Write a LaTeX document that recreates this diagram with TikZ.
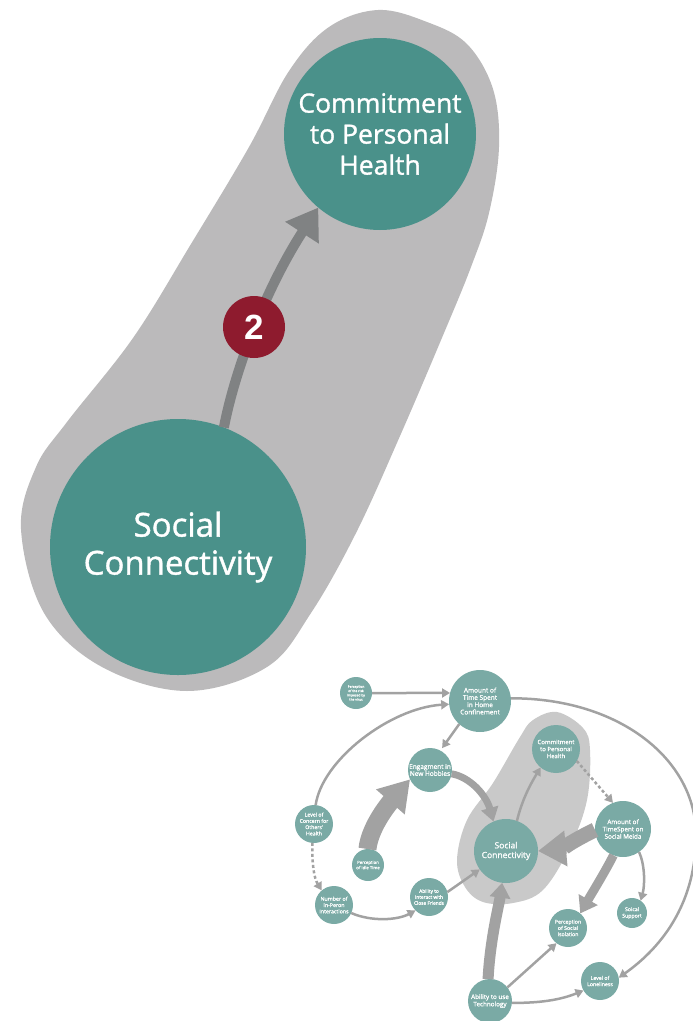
\documentclass[tikz,border=0pt]{standalone}
\usepackage{fontspec}
\setmainfont{Open Sans}[FakeBold=1.2]
\newfontfamily\numfont{Liberation Sans}
\usetikzlibrary{arrows.meta,shapes,positioning}

\definecolor{loopteal}{RGB}{74,145,138}
\definecolor{loopgrey}{RGB}{187,186,187}
\definecolor{linkgrey}{RGB}{128,130,131}
\definecolor{badgered}{RGB}{142,27,46}
\definecolor{mapteal}{RGB}{122,170,165}
\definecolor{mapgrey}{RGB}{201,201,201}
\definecolor{maplink}{RGB}{162,162,162}

\begin{document}
\begin{tikzpicture}[x=1pt,y=1pt,
    bub/.style={circle, fill=loopteal, text=white, align=center, inner sep=0pt, outer sep=0pt},
    minibub/.style={circle, fill=mapteal, text=white, align=center, inner sep=0pt, outer sep=0pt},
    thinlink/.style={draw=maplink, line width=2.5pt, -{Triangle[length=8pt,width=9pt]}},
    dotlink/.style={thinlink, dash pattern=on 3pt off 2.5pt},
    band/.style={draw=maplink, line width=#1}]

\useasboundingbox (0,0) rectangle (693,-1021);

% loop detail
\fill[loopgrey] plot[smooth cycle, tension=0.6] coordinates {
    (378,-10) (427,-22) (467,-44) (493,-89) (499,-147) (489,-213) (471,-267)
    (444,-333) (400,-436) (356,-533) (311,-613) (267,-667) (187,-691) (102,-667)
    (44,-613) (21,-529) (36,-467) (67,-422) (133,-338) (191,-244) (249,-147)
    (289,-71) (329,-27)};

\node[bub, minimum size=192pt, font=\fontsize{26.5}{31}\selectfont] at (380,-134) (com) {Commitment\\to Personal\\Health};
\node[bub, minimum size=256pt, font=\fontsize{33}{38}\selectfont] at (178,-547) (soc) {Social\\Connectivity};

\draw[draw=linkgrey, line width=10pt, -{Triangle[length=30pt,width=38pt]}]
    (soc.69) .. controls (236,-365) and (268,-285) .. (com.230);
\node[circle, fill=badgered, text=white, minimum size=62pt, inner sep=0pt, font=\numfont\bfseries\fontsize{35}{35}\selectfont] at (254,-327) (badge) {2};

% whole map
\fill[mapgrey] plot[smooth cycle, tension=0.6] coordinates {
    (557,-712) (583,-728) (590,-750) (587,-800) (570,-847) (543,-890) (513,-903)
    (483,-902) (465,-887) (457,-860) (467,-820) (493,-783) (520,-737) (533,-720)};

\node[minibub, minimum size=32pt, font=\fontsize{3.3}{4.3}\selectfont] at (356,-693) (risk) {Perception\\of the risk\\imposed by\\the virus};
\node[minibub, minimum size=62pt, font=\fontsize{6.5}{7.3}\selectfont] at (480,-701) (home) {Amount of\\Time Spent\\in Home\\Confinement};
\node[minibub, minimum size=44pt, font=\fontsize{6.5}{7}\selectfont] at (430,-770) (hobby) {Engagment in\\New Hobbies};
\node[minibub, minimum size=48pt, font=\fontsize{6}{7}\selectfont] at (556,-749) (com2) {Commitment\\to Personal\\Health};
\node[minibub, minimum size=38pt, font=\fontsize{5.2}{6.3}\selectfont] at (314,-824) (concern) {Level of\\Concern for\\Others'\\Health};
\node[minibub, minimum size=32pt, font=\fontsize{4.3}{5.3}\selectfont] at (368,-865) (idle) {Perception\\of Idle Time};
\node[minibub, minimum size=64pt, font=\fontsize{8.5}{9.7}\selectfont] at (506,-851) (soc2) {Social\\Connectivity};
\node[minibub, minimum size=56pt, font=\fontsize{6.3}{7.3}\selectfont] at (623,-829) (media) {Amount of\\TimeSpent on\\Social Meida};
\node[minibub, minimum size=38pt, font=\fontsize{5.3}{6.3}\selectfont] at (334,-905) (inper) {Number of\\In-Peron\\Interactions};
\node[minibub, minimum size=38pt, font=\fontsize{4.8}{6}\selectfont] at (429,-897) (friends) {Ability to\\Interact with\\Close Friends};
\node[minibub, minimum size=30pt, font=\fontsize{5.2}{6.5}\selectfont] at (632,-913) (support) {Soical\\Support};
\node[minibub, minimum size=38pt, font=\fontsize{5.2}{6.3}\selectfont] at (568,-928) (isol) {Perception\\of Social\\Isolation};
\node[minibub, minimum size=38pt, font=\fontsize{5.2}{6.3}\selectfont] at (600,-981) (lonely) {Level of\\Loneliness};
\node[minibub, minimum size=44pt, font=\fontsize{6.3}{7.3}\selectfont] at (490,-1001) (tech) {Ability to use\\Technology};

\coordinate (swing) at (696,-835);

\draw[thinlink] (risk.east) -- (home.165);
\draw[thinlink] (concern.85) .. controls (322,-760) and (390,-708) .. (home.186);
\draw[thinlink, shorten >=3pt] (home.228) -- (hobby.62);
\draw[thinlink] (home.5) .. controls (620,-698) and (696,-760) .. (swing)
    .. controls (696,-900) and (665,-945) .. (lonely.10);
\draw[band=18pt, -{Triangle[length=30pt,width=36pt]}] (idle.92) .. controls (370,-825) and (392,-800) .. (hobby.205);
\draw[band=7pt, -{Triangle[length=14pt,width=17pt]}] (hobby.-10) .. controls (470,-777) and (486,-795) .. (soc2.113);
\draw[thinlink] (soc2.70) .. controls (522,-800) and (530,-785) .. (com2.230);
\draw[dotlink] (com2.-30) -- (media.111);
\draw[band=15pt, -{Triangle[length=28pt,width=34pt]}] (media.182) .. controls (578,-838) and (560,-849) .. (soc2.0);
\draw[band=9pt, -{Triangle[length=16pt,width=21pt]}] (media.250) .. controls (605,-872) and (592,-893) .. (isol.50);
\draw[thinlink] (media.-55) .. controls (645,-865) and (645,-885) .. (support.55);
\draw[dotlink] (concern.265) .. controls (312,-865) and (314,-878) .. (inper.130);
\draw[thinlink] (inper.-25) .. controls (372,-922) and (398,-920) .. (friends.225);
\draw[thinlink] (friends.15) -- (soc2.215);
\draw[band=11pt, -{Triangle[length=15pt,width=20pt]}] (tech.95) .. controls (490,-940) and (499,-905) .. (soc2.263);
\draw[thinlink] (tech.38) -- (isol.233);
\draw[thinlink] (tech.-5) .. controls (540,-1003) and (560,-1000) .. (lonely.210);
\end{tikzpicture}
\end{document}
